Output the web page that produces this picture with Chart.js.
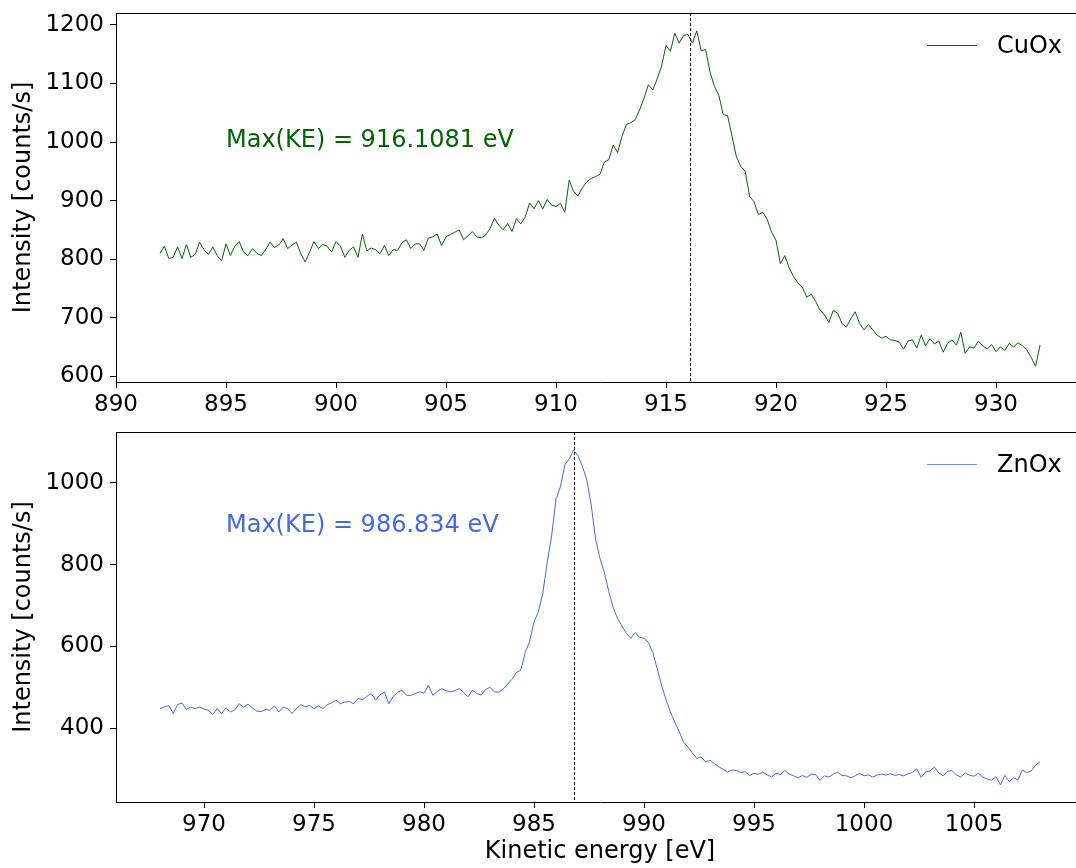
<!DOCTYPE html>
<html>
<head>
<meta charset="utf-8">
<script src="https://cdn.jsdelivr.net/npm/chart.js@4.4.1/dist/chart.umd.min.js"></script>
<style>
  html, body { margin: 0; padding: 0; background: #fff; width: 1076px; height: 868px; overflow: hidden; position: relative; }
  canvas { position: absolute; left: 0; }
  #cu { top: 0; }
  #zn { top: 420px; }
</style>
</head>
<body>
<canvas id="cu" width="1086" height="420"></canvas>
<canvas id="zn" width="1086" height="448"></canvas>
<script>
// CuOx spectrum
const cuEnergy = [
  892.0,892.2,892.4,892.6,892.8,893.0,893.2,893.4,893.6,893.8,
  894.0,894.2,894.4,894.6,894.8,895.0,895.2,895.4,895.6,895.8,
  896.0,896.2,896.4,896.6,896.8,897.0,897.2,897.4,897.6,897.8,
  898.0,898.2,898.4,898.6,898.8,899.0,899.2,899.4,899.6,899.8,
  900.0,900.2,900.4,900.6,900.8,901.0,901.2,901.4,901.6,901.8,
  902.0,902.2,902.4,902.6,902.8,903.0,903.2,903.4,903.6,903.8,
  904.0,904.2,904.4,904.6,904.8,905.0,905.2,905.4,905.6,905.8,
  906.0,906.2,906.4,906.6,906.8,907.0,907.2,907.4,907.6,907.8,
  908.0,908.2,908.4,908.6,908.8,909.0,909.2,909.4,909.6,909.8,
  910.0,910.2,910.4,910.6,910.8,911.0,911.2,911.4,911.6,911.8,
  912.0,912.2,912.4,912.6,912.8,913.0,913.2,913.4,913.6,913.8,
  914.0,914.2,914.4,914.6,914.8,915.0,915.2,915.4,915.6,915.8,
  916.0,916.2,916.4,916.6,916.8,917.0,917.2,917.4,917.6,917.8,
  918.0,918.2,918.4,918.6,918.8,919.0,919.2,919.4,919.6,919.8,
  920.0,920.2,920.4,920.6,920.8,921.0,921.2,921.4,921.6,921.8,
  922.0,922.2,922.4,922.6,922.8,923.0,923.2,923.4,923.6,923.8,
  924.0,924.2,924.4,924.6,924.8,925.0,925.2,925.4,925.6,925.8,
  926.0,926.2,926.4,926.6,926.8,927.0,927.2,927.4,927.6,927.8,
  928.0,928.2,928.4,928.6,928.8,929.0,929.2,929.4,929.6,929.8,
  930.0,930.2,930.4,930.6,930.8,931.0,931.2,931.4,931.6,931.8,
  932.0
];
const cuCounts = [
  810,822,801,803,821,801,825,803,808,829,
  816,808,821,806,797,826,806,822,830,812,
  806,818,810,806,816,829,820,824,835,818,
  824,829,809,795,812,830,818,825,822,812,
  830,822,803,815,821,803,843,814,819,816,
  809,823,806,816,815,828,833,818,826,826,
  815,836,838,843,823,838,842,846,850,833,
  840,847,838,836,841,852,870,858,850,861,
  847,869,860,872,896,886,900,886,902,892,
  890,895,880,935,915,908,922,932,938,941,
  945,966,970,995,982,1010,1030,1033,1038,1055,
  1075,1098,1089,1108,1130,1165,1155,1186,1169,1182,
  1184,1169,1190,1156,1158,1120,1095,1080,1047,1045,
  1010,975,958,950,907,898,876,880,868,846,
  832,792,806,785,770,759,752,735,740,728,
  713,705,692,712,708,690,684,698,710,690,
  679,688,679,670,665,668,662,661,658,646,
  660,662,648,670,652,664,655,660,641,656,
  662,653,675,639,650,648,660,652,646,654,
  642,650,644,656,650,657,652,645,632,617,
  653
];
const cuPeak = 916.1081;
const cuTicksX = [890, 895, 900, 905, 910, 915, 920, 925, 930];
const cuTicksY = [600, 700, 800, 900, 1000, 1100, 1200];

// ZnOx spectrum
const znEnergy = [
  968.0,968.2,968.4,968.6,968.8,969.0,969.2,969.4,969.6,969.8,
  970.0,970.2,970.4,970.6,970.8,971.0,971.2,971.4,971.6,971.8,
  972.0,972.2,972.4,972.6,972.8,973.0,973.2,973.4,973.6,973.8,
  974.0,974.2,974.4,974.6,974.8,975.0,975.2,975.4,975.6,975.8,
  976.0,976.2,976.4,976.6,976.8,977.0,977.2,977.4,977.6,977.8,
  978.0,978.2,978.4,978.6,978.8,979.0,979.2,979.4,979.6,979.8,
  980.0,980.2,980.4,980.6,980.8,981.0,981.2,981.4,981.6,981.8,
  982.0,982.2,982.4,982.6,982.8,983.0,983.2,983.4,983.6,983.8,
  984.0,984.2,984.4,984.6,984.8,985.0,985.2,985.4,985.6,985.8,
  986.0,986.2,986.4,986.6,986.8,987.0,987.2,987.4,987.6,987.8,
  988.0,988.2,988.4,988.6,988.8,989.0,989.2,989.4,989.6,989.8,
  990.0,990.2,990.4,990.6,990.8,991.0,991.2,991.4,991.6,991.8,
  992.0,992.2,992.4,992.6,992.8,993.0,993.2,993.4,993.6,993.8,
  994.0,994.2,994.4,994.6,994.8,995.0,995.2,995.4,995.6,995.8,
  996.0,996.2,996.4,996.6,996.8,997.0,997.2,997.4,997.6,997.8,
  998.0,998.2,998.4,998.6,998.8,999.0,999.2,999.4,999.6,999.8,
  1000.0,1000.2,1000.4,1000.6,1000.8,1001.0,1001.2,1001.4,1001.6,1001.8,
  1002.0,1002.2,1002.4,1002.6,1002.8,1003.0,1003.2,1003.4,1003.6,1003.8,
  1004.0,1004.2,1004.4,1004.6,1004.8,1005.0,1005.2,1005.4,1005.6,1005.8,
  1006.0,1006.2,1006.4,1006.6,1006.8,1007.0,1007.2,1007.4,1007.6,1007.8,
  1008.0
];
const znCounts = [
  448,452,456,436,458,462,446,452,448,452,
  447,444,434,448,436,450,440,445,460,452,
  459,450,442,441,446,444,455,440,452,448,
  436,448,458,452,456,448,455,448,458,462,
  469,460,464,466,460,473,470,478,485,469,
  482,489,460,478,488,493,481,480,485,489,
  486,505,481,490,497,492,489,492,497,488,
  477,493,485,481,495,500,489,488,496,508,
  520,536,542,585,612,660,685,730,805,870,
  960,990,1044,1058,1080,1066,1040,1007,946,862,
  815,780,734,695,668,650,632,620,634,622,
  620,610,585,546,505,470,440,415,392,366,
  354,340,326,330,318,322,314,306,300,293,
  298,297,292,294,285,290,288,293,286,281,
  290,287,297,288,284,279,285,280,288,287,
  273,284,281,288,293,285,284,279,284,290,
  284,286,281,286,288,286,289,285,287,284,
  289,292,301,280,293,296,305,291,284,295,
  297,286,281,291,285,283,290,281,276,273,
  282,262,285,270,279,274,298,292,296,310,
  318
];
const znPeak = 986.834;
const znTicksX = [970, 975, 980, 985, 990, 995, 1000, 1005];
const znTicksY = [400, 600, 800, 1000];

const FONT = '"DejaVu Sans", "Liberation Sans", sans-serif';
Chart.defaults.font.family = FONT;
Chart.defaults.color = '#000';

// frame, peak marker, note and legend drawn on top of the data
const extras = {
  id: 'extras',
  afterDatasetsDraw(chart, args, o) {
    const { ctx, chartArea: a, scales: { x, y } } = chart;
    ctx.save();
    ctx.strokeStyle = '#000';
    ctx.lineWidth = 1;
    ctx.beginPath();
    ctx.moveTo(a.left, a.top + 0.5);
    ctx.lineTo(a.right, a.top + 0.5);
    ctx.moveTo(a.right - 0.5, a.top);
    ctx.lineTo(a.right - 0.5, a.bottom);
    ctx.stroke();

    const px = Math.round(x.getPixelForValue(o.peak)) + 0.5;
    ctx.setLineDash([3, 2]);
    ctx.beginPath();
    ctx.moveTo(px, a.top);
    ctx.lineTo(px, a.bottom);
    ctx.stroke();
    ctx.setLineDash([]);

    ctx.font = '24px ' + FONT;
    ctx.fillStyle = o.color;
    ctx.textBaseline = 'alphabetic';
    ctx.fillText(o.note, x.getPixelForValue(o.noteAt[0]), y.getPixelForValue(o.noteAt[1]));

    const ly = a.top + 32.5;
    ctx.strokeStyle = o.legendColor;
    ctx.beginPath();
    ctx.moveTo(a.right - 157, ly);
    ctx.lineTo(a.right - 107, ly);
    ctx.stroke();
    ctx.fillStyle = '#000';
    ctx.textBaseline = 'middle';
    ctx.fillText(chart.data.datasets[0].label, a.right - 87, ly + 1);
    ctx.restore();
  }
};

function makeChart(id, c) {
  return new Chart(document.getElementById(id), {
    type: 'line',
    data: {
      datasets: [{
        label: c.label,
        data: c.energy.map((e, i) => ({ x: e, y: c.counts[i] })),
        borderColor: c.color,
        borderWidth: 1,
        pointRadius: 0,
        tension: 0,
        fill: false
      }]
    },
    options: {
      responsive: false,
      animation: false,
      devicePixelRatio: 1,
      layout: { padding: { top: c.padTop, right: 2, left: 0, bottom: 0 } },
      plugins: {
        legend: { display: false },
        tooltip: { enabled: false },
        extras: {
          peak: c.peak, note: c.note, noteAt: c.noteAt,
          color: c.color, legendColor: c.legendColor
        }
      },
      scales: {
        x: {
          type: 'linear',
          min: c.xMin, max: c.xMax,
          afterBuildTicks: s => { s.ticks = c.ticksX.map(v => ({ value: v })); },
          afterFit: s => { s.height = c.xHeight; s.paddingLeft = 0; s.paddingRight = 0; },
          border: { display: true, color: '#000', width: 1 },
          grid: { drawOnChartArea: false, drawTicks: true, tickLength: 6, color: '#000' },
          ticks: { font: { size: 23 }, padding: 3, maxRotation: 0, callback: v => String(v) },
          title: {
            display: c.xTitle !== '',
            text: c.xTitle,
            font: { size: 24, lineHeight: 1.2 },
            padding: { top: 0, bottom: 2 }
          }
        },
        y: {
          type: 'linear',
          min: c.yMin, max: c.yMax,
          afterBuildTicks: s => { s.ticks = c.ticksY.map(v => ({ value: v })); },
          afterFit: s => { s.width = 116; s.paddingTop = 0; s.paddingBottom = 0; },
          border: { display: true, color: '#000', width: 1 },
          grid: { drawOnChartArea: false, drawTicks: true, tickLength: 6, color: '#000' },
          ticks: { font: { size: 23 }, padding: 6, callback: v => String(v) },
          title: {
            display: true,
            text: 'Intensity [counts/s]',
            font: { size: 24, lineHeight: 1.2 },
            padding: { top: 9, bottom: 0 }
          }
        }
      }
    },
    plugins: [extras]
  });
}

makeChart('cu', {
  label: 'CuOx', energy: cuEnergy, counts: cuCounts,
  color: '#006400', legendColor: '#006400',
  peak: cuPeak, note: 'Max(KE) = 916.1081 eV', noteAt: [895, 991],
  xMin: 890, xMax: 934, yMin: 590, yMax: 1220.5,
  ticksX: cuTicksX, ticksY: cuTicksY,
  padTop: 13, xHeight: 38, xTitle: ''
});

makeChart('zn', {
  label: 'ZnOx', energy: znEnergy, counts: znCounts,
  color: '#4169e1', legendColor: 'rgba(65,105,225,0.75)',
  peak: znPeak, note: 'Max(KE) = 986.834 eV', noteAt: [971, 880],
  xMin: 966, xMax: 1010, yMin: 220, yMax: 1124,
  ticksX: znTicksX, ticksY: znTicksY,
  padTop: 12, xHeight: 66, xTitle: 'Kinetic energy [eV]'
});
</script>
</body>
</html>
